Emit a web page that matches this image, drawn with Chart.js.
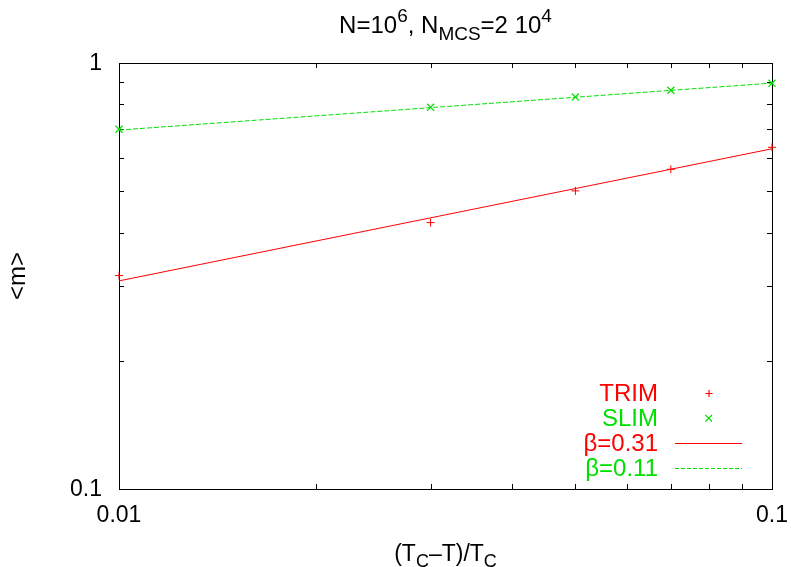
<!DOCTYPE html>
<html>
<head>
<meta charset="utf-8">
<script src="https://cdn.jsdelivr.net/npm/chart.js@4/dist/chart.umd.min.js"></script>
<style>
  html, body { margin: 0; background: #fff; }
</style>
</head>
<body>
<canvas id="chart" width="791" height="567"></canvas>
<script>
// data (log-log)
const xVals = [0.01, 0.03, 0.05, 0.07, 0.1];
const trimVals = [0.317, 0.422, 0.501, 0.563, 0.634];
const slimVals = [0.699, 0.787, 0.832, 0.863, 0.896];
const fitX = [0.01, 0.1];
const fitTrim = [0.308, 0.629]; // beta = 0.31
const fitSlim = [0.696, 0.897]; // beta = 0.11
const xTickLabels = [0.01, 0.1];
const yTickLabels = [0.1, 1];
const xMinor = [0.02, 0.03, 0.04, 0.05, 0.06, 0.07, 0.08, 0.09];
const yMinor = [0.2, 0.3, 0.4, 0.5, 0.6, 0.7, 0.8, 0.9];

const RED = "#ff0000";
const GREEN = "#00e000";
const FONT = '"Liberation Sans", Arial, sans-serif';

const pts = (xs, ys) => xs.map((x, i) => ({ x, y: ys[i] }));

// draws runs of text with sub/superscripts, centred on x
function richText(ctx, parts, cx, baseY, size) {
  const small = Math.round(size * 0.8);
  let total = 0;
  parts.forEach(p => {
    ctx.font = `${p.s ? small : size}px ${FONT}`;
    p.w = ctx.measureText(p.t).width;
    total += p.w;
  });
  let x = cx - total / 2;
  ctx.textAlign = "left";
  ctx.textBaseline = "alphabetic";
  parts.forEach(p => {
    ctx.font = `${p.s ? small : size}px ${FONT}`;
    const dy = p.s === "sup" ? -size * 0.45 : p.s === "sub" ? size * 0.28 : 0;
    ctx.fillText(p.t, x, baseY + dy);
    x += p.w;
  });
}

const gnuplotFrame = {
  id: "gnuplotFrame",
  beforeDatasetsDraw(chart) {
    const { ctx, chartArea: a, scales } = chart;
    const xs = scales.x, ys = scales.y;
    ctx.save();
    ctx.strokeStyle = "#000";
    ctx.lineWidth = 1;
    ctx.beginPath();
    const tick = (v, len) => {
      const px = Math.round(xs.getPixelForValue(v)) + 0.5;
      ctx.moveTo(px, a.bottom); ctx.lineTo(px, a.bottom - len);
      ctx.moveTo(px, a.top); ctx.lineTo(px, a.top + len);
    };
    const ytick = (v, len) => {
      const py = Math.round(ys.getPixelForValue(v)) + 0.5;
      ctx.moveTo(a.left, py); ctx.lineTo(a.left + len, py);
      ctx.moveTo(a.right, py); ctx.lineTo(a.right - len, py);
    };
    xMinor.forEach(v => tick(v, 5));
    yMinor.forEach(v => ytick(v, 5));
    ctx.stroke();
    ctx.strokeRect(Math.round(a.left) + 0.5, Math.round(a.top) + 0.5,
      Math.round(a.right - a.left), Math.round(a.bottom - a.top));
    ctx.restore();
  },
  afterDraw(chart) {
    const { ctx, chartArea: a, scales } = chart;
    const xs = scales.x, ys = scales.y;
    ctx.save();
    ctx.fillStyle = "#000";

    // tick labels
    ctx.font = `23px ${FONT}`;
    ctx.textAlign = "right";
    ctx.textBaseline = "middle";
    yTickLabels.forEach(v => ctx.fillText(String(v), a.left - 17, ys.getPixelForValue(v) + 1));
    ctx.textAlign = "center";
    xTickLabels.forEach(v => ctx.fillText(String(v), xs.getPixelForValue(v), a.bottom + 27));

    // title
    richText(ctx, [
      { t: "N=10" }, { t: "6", s: "sup" }, { t: ", N" }, { t: "MCS", s: "sub" },
      { t: "=2 10" }, { t: "4", s: "sup" }
    ], (a.left + a.right) / 2, 33, 24);

    // x axis title
    richText(ctx, [
      { t: "(T" }, { t: "C", s: "sub" }, { t: "\u2013T)/T" }, { t: "C", s: "sub" }
    ], (a.left + a.right) / 2, 561, 23);

    // y axis title
    ctx.save();
    ctx.translate(18, (a.top + a.bottom) / 2);
    ctx.rotate(-Math.PI / 2);
    ctx.font = `24px ${FONT}`;
    ctx.textAlign = "center";
    ctx.textBaseline = "middle";
    ctx.fillText("<m>", 0, 0);
    ctx.restore();

    // legend (gnuplot style: text right-aligned, sample to the right)
    const rows = [
      { label: "TRIM", color: RED, kind: "plus" },
      { label: "SLIM", color: GREEN, kind: "x" },
      { label: "\u03b2=0.31", color: RED, kind: "line" },
      { label: "\u03b2=0.11", color: GREEN, kind: "dash" }
    ];
    ctx.font = `24px ${FONT}`;
    ctx.textAlign = "right";
    ctx.textBaseline = "middle";
    rows.forEach((r, i) => {
      const y = 393 + i * 25;
      ctx.fillStyle = r.color;
      ctx.fillText(r.label, 658, y + 1);
      ctx.strokeStyle = r.color;
      ctx.lineWidth = 1.2;
      ctx.beginPath();
      if (r.kind === "plus") {
        ctx.moveTo(705.5, y + 0.5); ctx.lineTo(712.5, y + 0.5);
        ctx.moveTo(709, y - 3); ctx.lineTo(709, y + 4);
      } else if (r.kind === "x") {
        ctx.moveTo(705.5, y - 3); ctx.lineTo(712, y + 3.5);
        ctx.moveTo(712, y - 3); ctx.lineTo(705.5, y + 3.5);
      } else {
        ctx.lineWidth = 1;
        if (r.kind === "dash") ctx.setLineDash([4, 2]);
        ctx.moveTo(675, y + 0.5); ctx.lineTo(742, y + 0.5);
      }
      ctx.stroke();
      ctx.setLineDash([]);
    });
    ctx.restore();
  }
};

new Chart(document.getElementById("chart"), {
  type: "line",
  data: {
    datasets: [
      {
        label: "TRIM",
        data: pts(xVals, trimVals),
        showLine: false,
        pointStyle: "cross",
        pointRadius: 4,
        pointBorderWidth: 1,
        borderColor: RED,
        clip: false
      },
      {
        label: "SLIM",
        data: pts(xVals, slimVals),
        showLine: false,
        pointStyle: "crossRot",
        pointRadius: 5,
        pointBorderWidth: 1.2,
        borderColor: GREEN,
        clip: false
      },
      {
        label: "\u03b2=0.31",
        data: pts(fitX, fitTrim),
        borderColor: RED,
        borderWidth: 1,
        pointRadius: 0
      },
      {
        label: "\u03b2=0.11",
        data: pts(fitX, fitSlim),
        borderColor: GREEN,
        borderWidth: 1,
        borderDash: [5, 2],
        pointRadius: 0
      }
    ]
  },
  options: {
    responsive: false,
    animation: false,
    devicePixelRatio: 1,
    layout: { padding: { left: 119, top: 63, right: 19, bottom: 78 } },
    scales: {
      x: { type: "logarithmic", min: 0.01, max: 0.1, display: false },
      y: { type: "logarithmic", min: 0.1, max: 1, display: false }
    },
    plugins: { legend: { display: false }, tooltip: { enabled: false } }
  },
  plugins: [gnuplotFrame]
});
</script>
</body>
</html>
